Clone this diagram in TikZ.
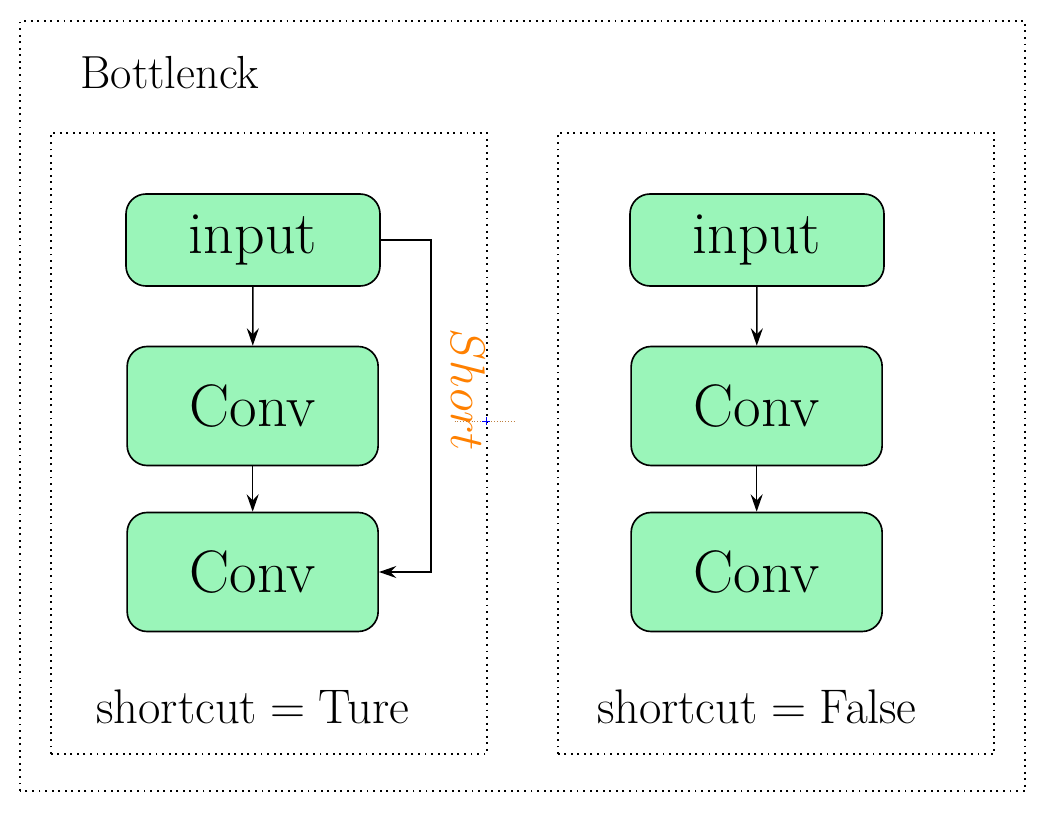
\documentclass[tikz,border=0pt]{standalone}
\usepackage{amsmath}
\usepackage{graphicx,xcolor}
\usepackage{tikz}
\usetikzlibrary{shapes.geometric,arrows,arrows.meta,calc,positioning}
\definecolor{boxgreen}{RGB}{154,245,185}

\begin{document}
\begin{tikzpicture}
	\tikzstyle{every node} = [inner sep = 0pt]
	\tikzstyle{block} = [draw = black, fill = boxgreen, rounded corners = 0.3cm, line width = 0.7pt, font = \fontsize{25.6}{31}\selectfont]
	\tikzstyle{frame} = [draw = black, dotted, thick]
	\tikzstyle{link} = [draw, line width = 0.7pt, -{Stealth[length = 2.6mm, width = 1.8mm, inset = 0.9mm]}]
\useasboundingbox (0, 0) rectangle (15.78, 12.285);
	\path[frame] (0.30, 0.42) rectangle (15.375, 11.97);
	\path[frame] (0.765, 0.975) rectangle (7.305, 10.29);
	\path[frame] (8.37, 0.975) rectangle (14.91, 10.29);
\node[anchor = west, font = \fontsize{19.8}{24}\selectfont] (title) at (1.2, 11.2) {Bottlenck};
% shortcut = Ture
\node[block, minimum width = 3.81cm, minimum height = 1.38cm] (in1) at (3.795, 8.685) {input};
\node[block, minimum width = 3.765cm, minimum height = 1.785cm] (a1) at (3.79, 6.195) {Conv};
\node[block, minimum width = 3.765cm, minimum height = 1.785cm] (b1) at (3.79, 3.705) {Conv};
	\path[link] (in1) -- (a1);
	\path[link] (a1) -- (b1);
	\path[link] (in1.east) -- ++(0.75, 0) |- (b1.east);
 \node[text = orange, rotate = -90, font = \fontsize{20}{24}\selectfont] (short) at (7.02, 6.435) {$Short$};
\coordinate (p) at (7.29, 5.97);
	\path[draw, brown, densely dotted, very thin] ($(p) + (-0.47, 0)$) -- ($(p) + (0.43, 0)$);
	\path[draw, blue, thin] ($(p) + (-0.06, 0)$) -- ($(p) + (0.06, 0)$) ($(p) + (0, -0.06)$) -- ($(p) + (0, 0.06)$);
 \node[font = \fontsize{20.3}{25}\selectfont] (l1) at (3.795, 1.68) {$\mathrm{shortcut} = \mathrm{Ture}$};
% shortcut = False
\node[block, minimum width = 3.81cm, minimum height = 1.38cm] (in2) at (11.355, 8.685) {input};
\node[block, minimum width = 3.765cm, minimum height = 1.785cm] (a2) at (11.35, 6.195) {Conv};
\node[block, minimum width = 3.765cm, minimum height = 1.785cm] (b2) at (11.35, 3.705) {Conv};
	\path[link] (in2) -- (a2);
	\path[link] (a2) -- (b2);
 \node[font = \fontsize{20.3}{25}\selectfont] (l2) at (11.355, 1.68) {$\mathrm{shortcut} = \mathrm{False}$};
	\end{tikzpicture}
\end{document}
